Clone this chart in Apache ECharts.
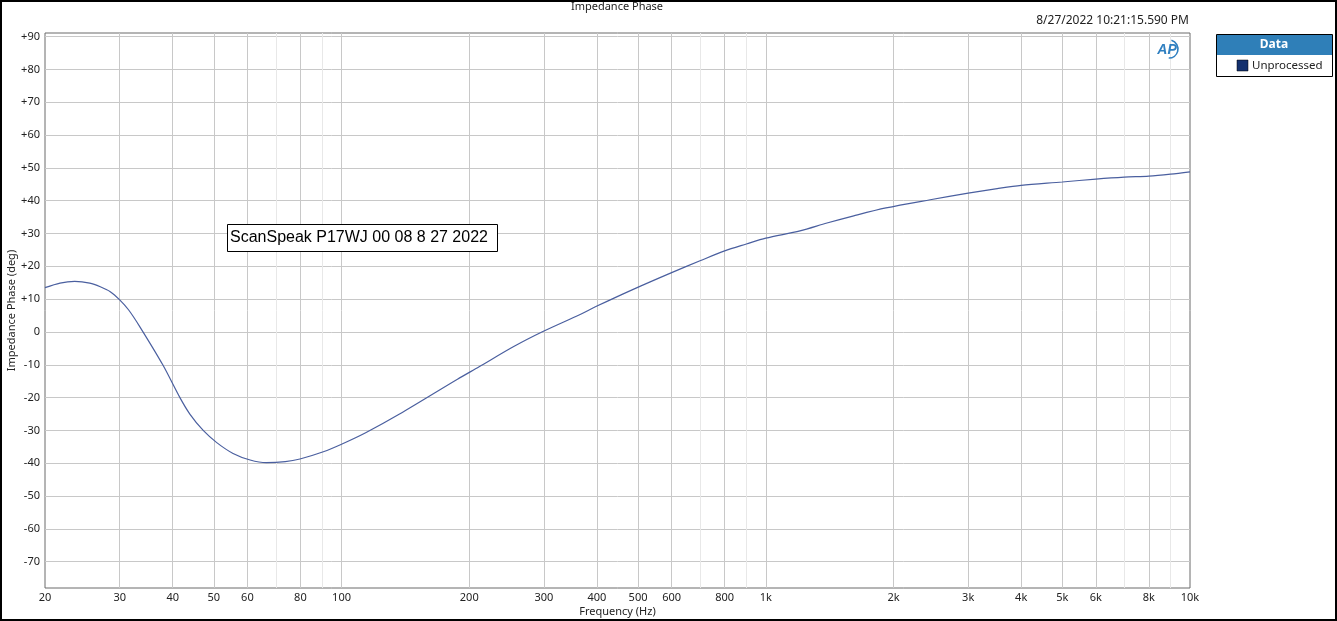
<!DOCTYPE html>
<html>
<head>
<meta charset="utf-8">
<script src="https://cdn.jsdelivr.net/npm/echarts@6/dist/echarts.min.js"></script>
<style>
html,body{margin:0;padding:0;background:#fff;}
#c{width:1337px;height:621px;}
</style>
</head>
<body>
<div id="c"></div>
<script>
// ---- data ----
const freqHz = [20, 21.7, 23.5, 25.5, 27.0, 28.5, 30, 31.5, 33.5, 37.9, 41.6, 43.9, 47.2, 50.8, 55.5, 60.9, 66.5, 73.7, 79.8, 90.6, 100, 114, 137, 187.6, 211, 254, 300, 363, 400, 487, 600, 700, 800, 900, 1000, 1204, 1394, 1612, 1920, 2442, 3000, 3512, 4000, 5000, 6000, 7000, 8000, 9000, 10000];
const phaseDeg = [13.5, 14.9, 15.4, 14.9, 13.8, 12.3, 9.8, 6.7, 1.5, -10, -20, -25.0, -30, -33.7, -37.0, -39.0, -39.8, -39.5, -38.7, -36.5, -34.2, -30.7, -25.0, -14.4, -10.6, -4.5, 0.3, 5.2, 7.9, 13.0, 18.1, 21.7, 24.7, 26.8, 28.6, 30.8, 33.2, 35.4, 37.8, 40.3, 42.3, 43.7, 44.7, 45.7, 46.6, 47.2, 47.5, 48.1, 48.8];
const xLabelFreqs = [20, 30, 40, 50, 60, 80, 100, 200, 300, 400, 500, 600, 800, 1000, 2000, 3000, 4000, 5000, 6000, 8000, 10000];
const xMajorGrid = [30, 40, 50, 60, 80, 100, 200, 300, 400, 500, 600, 800, 1000, 2000, 3000, 4000, 5000, 6000, 8000];
const xMinorGrid = [70, 90, 700, 900, 7000, 9000];
const yTicks = [-70, -60, -50, -40, -30, -20, -10, 0, 10, 20, 30, 40, 50, 60, 70, 80, 90];
const seriesName = 'Unprocessed';
const titleText = 'Impedance Phase';
const stampText = '8/27/2022 10:21:15.590 PM';
const noteText = 'ScanSpeak P17WJ 00 08 8 27 2022';

const FONT = '"Noto Sans", "Open Sans", sans-serif';
const lg = v => Math.log10(v);
const fmtFreq = v => {
  const f = Math.round(Math.pow(10, v));
  return f >= 1000 ? (f / 1000) + 'k' : String(f);
};

const chart = echarts.init(document.getElementById('c'), null, {renderer: 'canvas'});
const xCommon = {type: 'value', min: lg(20), max: lg(10000)};

chart.setOption({
  animation: false,
  backgroundColor: '#fff',
  grid: {left: 45, right: 147, top: 33, bottom: 33, containLabel: false, outerBoundsMode: 'none', show: true, borderColor: '#6b6b6b', borderWidth: 1, backgroundColor: 'transparent'},
  xAxis: [
    Object.assign({}, xCommon, {
      name: 'Frequency (Hz)', nameLocation: 'middle', nameGap: 18, nameMoveOverlap: false,
      nameTextStyle: {fontFamily: FONT, fontSize: 11, color: '#222'},
      axisLine: {show: false},
      axisTick: {show: false, customValues: xMajorGrid.map(lg)},
      axisLabel: {customValues: xLabelFreqs.map(lg), formatter: fmtFreq, fontFamily: FONT, fontSize: 11, color: '#222', margin: 4, showMinLabel: true, showMaxLabel: true},
      splitLine: {show: true, lineStyle: {color: '#c8c8c8', width: 1}}
    }),
    Object.assign({}, xCommon, {
      position: 'bottom',
      axisLine: {show: false},
      axisTick: {show: false, customValues: xMinorGrid.map(lg)},
      axisLabel: {show: false},
      splitLine: {show: true, lineStyle: {color: '#e8e8e8', width: 1}}
    })
  ],
  yAxis: {
    type: 'value', min: -78, max: 91.1,
    name: 'Impedance Phase (deg)', nameLocation: 'middle', nameGap: 28, nameRotate: 90, nameMoveOverlap: false,
    nameTextStyle: {fontFamily: FONT, fontSize: 11, color: '#222'},
    axisLine: {show: false},
    axisTick: {show: false, customValues: yTicks},
    axisLabel: {customValues: yTicks, formatter: v => v > 0 ? '+' + v : String(v), fontFamily: FONT, fontSize: 11, color: '#222', margin: 5},
    splitLine: {show: true, lineStyle: {color: '#c8c8c8', width: 1}}
  },
  series: [{
    name: seriesName,
    type: 'line',
    xAxisIndex: 0,
    data: freqHz.map((f, i) => [lg(f), phaseDeg[i]]),
    smooth: 0.3,
    showSymbol: false,
    lineStyle: {color: '#4a5f9f', width: 1.2},
    z: 5
  }],
  graphic: [
    {type: 'rect', shape: {x: 1, y: 1, width: 1335, height: 619}, style: {fill: 'none', stroke: '#000', lineWidth: 2}, z: 100},
    {type: 'text', style: {text: titleText, x: 617, y: 7, fill: '#222', font: '11px ' + FONT, textAlign: 'center', textVerticalAlign: 'middle'}},
    {type: 'text', style: {text: stampText, x: 1189, y: 21, fill: '#222', font: '12px ' + FONT, textAlign: 'right', textVerticalAlign: 'middle'}},
    // annotation
    {type: 'rect', shape: {x: 227.5, y: 224.5, width: 270, height: 27}, style: {fill: '#fff', stroke: '#000', lineWidth: 1}, z: 10},
    {type: 'text', style: {text: noteText, x: 230, y: 238, fill: '#000', font: '16px "Liberation Sans", Arial, sans-serif', textVerticalAlign: 'middle'}, z: 11},
    // AP logo
    {type: 'text', style: {text: 'AP', x: 1167, y: 50, fill: '#2f7fc0', font: 'italic bold 14px "Liberation Sans", Arial, sans-serif', textAlign: 'center', textVerticalAlign: 'middle'}, z: 11},
    {type: 'arc', shape: {cx: 1169, cy: 49, r: 9, startAngle: -1.3, endAngle: 1.6}, style: {stroke: '#2f7fc0', fill: 'none', lineWidth: 1.6}, z: 11},
    // legend box
    {type: 'rect', shape: {x: 1216.5, y: 34.5, width: 116, height: 42}, style: {fill: '#fff', stroke: '#000', lineWidth: 1}, z: 10},
    {type: 'rect', shape: {x: 1217, y: 35, width: 115, height: 20}, style: {fill: '#2f7fb8'}, z: 11},
    {type: 'text', style: {text: 'Data', x: 1274, y: 45, fill: '#fff', font: 'bold 12px ' + FONT, textAlign: 'center', textVerticalAlign: 'middle'}, z: 12},
    {type: 'rect', shape: {x: 1237, y: 60, width: 11, height: 11}, style: {fill: '#13306e', stroke: '#000', lineWidth: 0.5}, z: 11},
    {type: 'text', style: {text: seriesName, x: 1252, y: 66, fill: '#222', font: '11.5px ' + FONT, textVerticalAlign: 'middle'}, z: 11}
  ]
});
</script>
</body>
</html>
